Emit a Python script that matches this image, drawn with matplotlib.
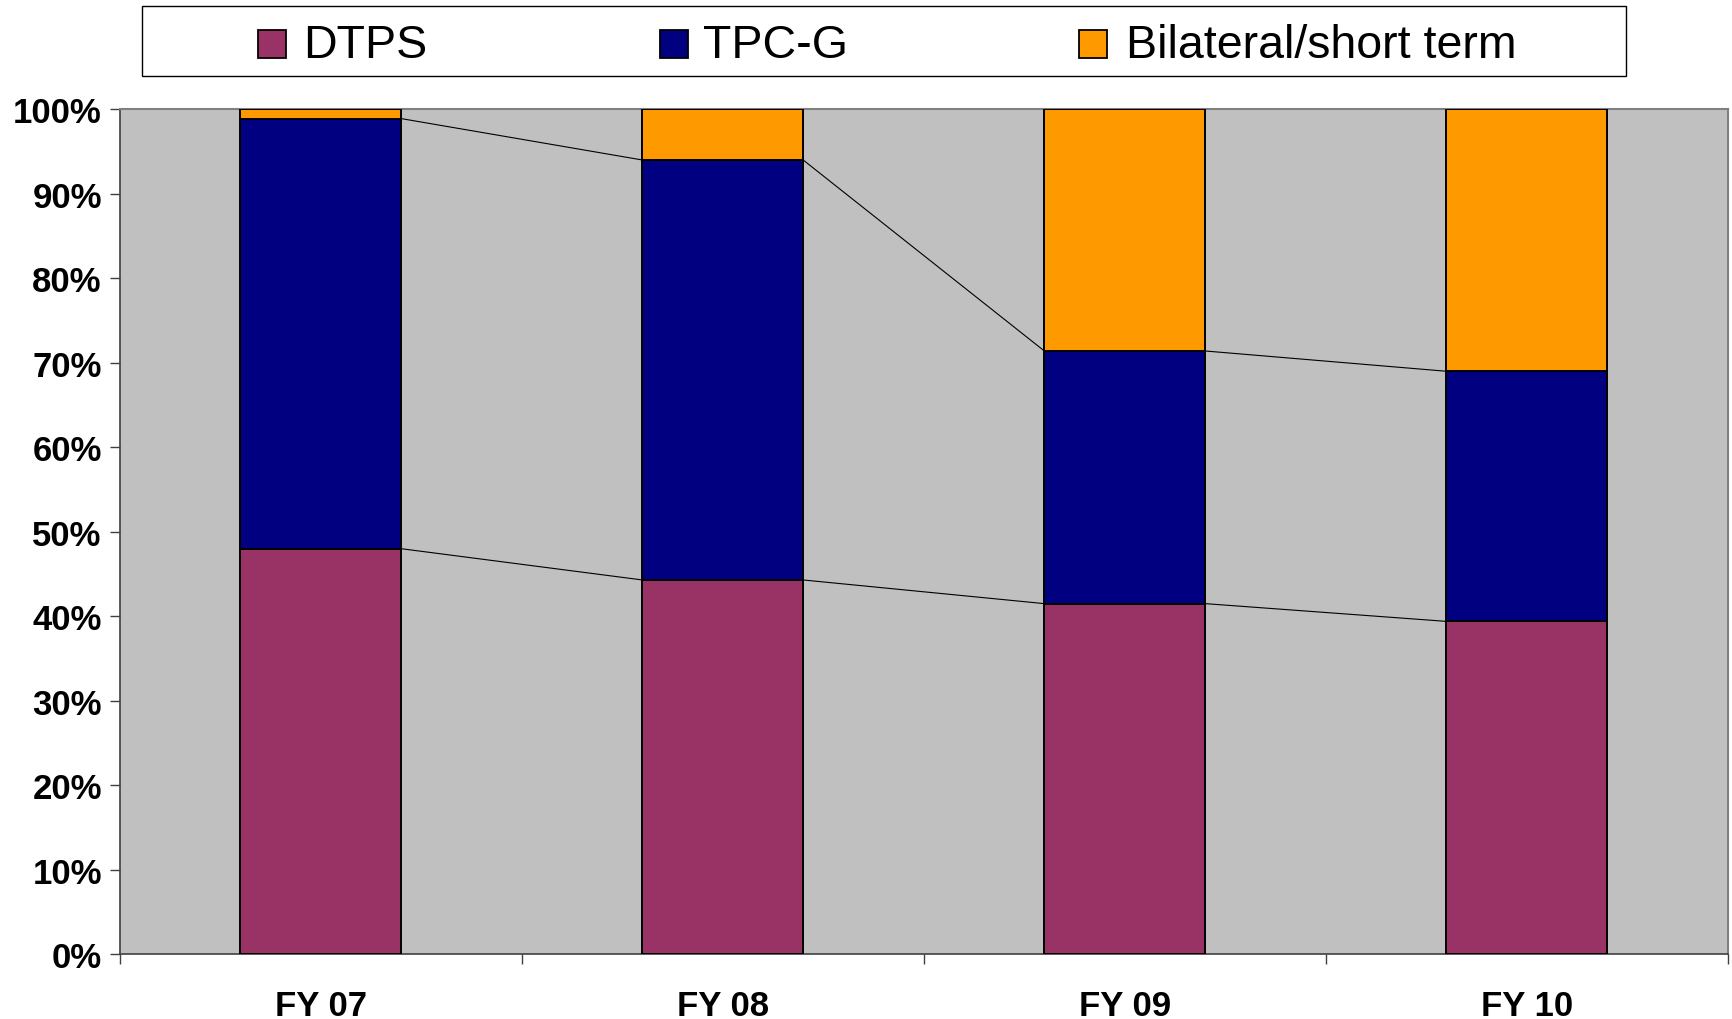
import matplotlib
matplotlib.use("Agg")
import matplotlib.pyplot as plt
import matplotlib.patches as patches
import numpy as np

plt.rcParams['font.family'] = ['Liberation Sans', 'DejaVu Sans']

years = ['FY 07', 'FY 08', 'FY 09', 'FY 10']
series_names = ['DTPS', 'TPC-G', 'Bilateral/short term']
dtps = [48.0, 44.3, 41.5, 39.4]
tpc_g = [50.9, 49.7, 29.9, 29.6]
bilateral = [1.1, 6.0, 28.6, 31.0]
colors = ['#993366', '#000080', '#FF9900']

BAR_W = 0.4

fig = plt.figure(figsize=(17.32, 10.2), dpi=100)
ax = fig.add_axes([0.0692, 0.06343, 0.9975 - 0.0692, 0.89186 - 0.06343])
ax.set_facecolor('#C0C0C0')

x = np.arange(len(years))
bottom = np.zeros(len(years))
tops = []
for vals, c in zip([dtps, tpc_g, bilateral], colors):
    ax.bar(x, vals, BAR_W, bottom=bottom, color=c, edgecolor='black',
           linewidth=1.4, zorder=3)
    bottom = bottom + np.array(vals)
    tops.append(bottom.copy())

# series lines joining the stacked segment tops between neighbouring bars
for level in tops[:2]:
    for i in range(len(years) - 1):
        ax.plot([x[i] + BAR_W / 2, x[i + 1] - BAR_W / 2], [level[i], level[i + 1]],
                color='black', linewidth=0.8, zorder=2)

ax.set_xlim(-0.5, len(years) - 0.5)
ax.set_ylim(0, 100)

ax.set_yticks(np.arange(0, 101, 10))
ax.set_yticklabels([f'{v}%' for v in range(0, 101, 10)], fontsize=25,
                   fontweight='bold')
ax.tick_params(axis='y', direction='out', length=7, width=1, color='#404040', pad=6)

# category boundaries as major ticks, names centred as minor labels
ax.set_xticks(np.arange(-0.5, len(years), 1.0))
ax.set_xticklabels([])
ax.set_xticks(x, minor=True)
ax.set_xticklabels(years, minor=True, fontsize=25, fontweight='bold')
ax.tick_params(axis='x', which='major', direction='out', length=7, width=1,
               color='#404040')
ax.tick_params(axis='x', which='minor', length=0, pad=25)

for side in ['top', 'right']:
    ax.spines[side].set_color('#808080')
    ax.spines[side].set_linewidth(1.5)
for side in ['left', 'bottom']:
    ax.spines[side].set_color('#404040')
    ax.spines[side].set_linewidth(1.2)

# legend box across the top
W, H = 1732.0, 1020.0
frame = patches.Rectangle((142.4 / W, 1 - 77.3 / H), (1626.4 - 142.4) / W,
                          (77.3 - 7.3) / H, transform=fig.transFigure,
                          facecolor='white', edgecolor='black', linewidth=1.0)
fig.add_artist(frame)
marker_x = [257.6, 659.5, 1079.0]
text_x = [303.5, 702.5, 1126.0]
for name, c, mx, tx in zip(series_names, colors, marker_x, text_x):
    fig.add_artist(patches.Rectangle((mx / W, 1 - 59.0 / H), 28 / W, 28 / H,
                                     transform=fig.transFigure, facecolor=c,
                                     edgecolor='black', linewidth=1.3))
    fig.text(tx / W, 1 - 46.5 / H, name, fontsize=33.5, ha='left', va='center')

fig.savefig('out.png', dpi=100)
